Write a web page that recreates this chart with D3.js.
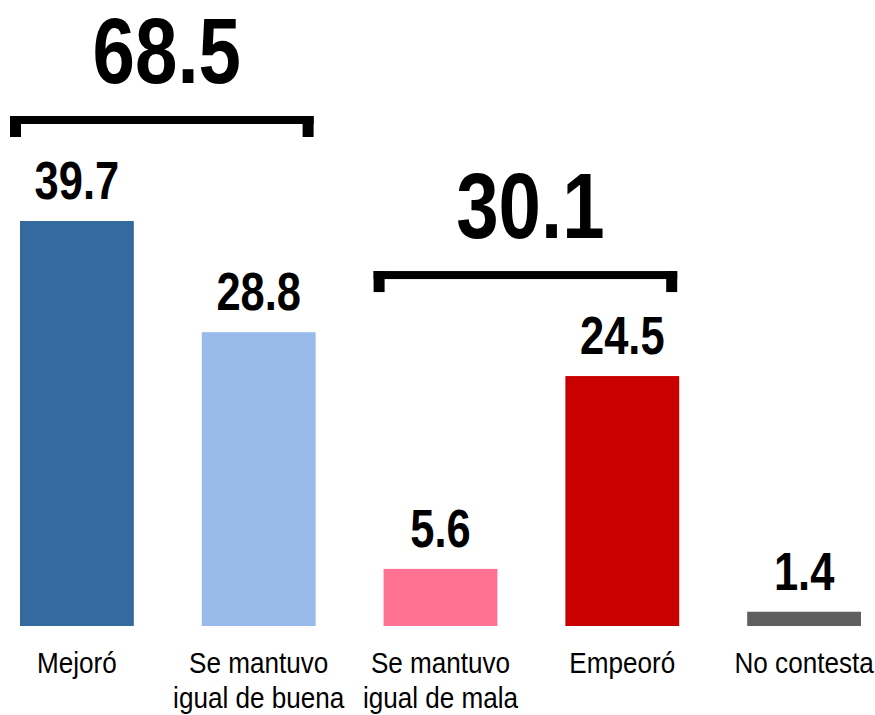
<!DOCTYPE html>
<html>
<head>
<meta charset="utf-8">
<script src="https://cdn.jsdelivr.net/npm/d3@7"></script>
<style>
  body { margin: 0; background: #fff; }
  text { font-family: "Liberation Sans", Arial, sans-serif; }
</style>
</head>
<body>
<div id="chart"></div>
<script>
// categories and values
var categories = ["Mejoró", "Se mantuvo igual de buena", "Se mantuvo igual de mala", "Empeoró", "No contesta"];
var labelLines = [["Mejoró"], ["Se mantuvo", "igual de buena"], ["Se mantuvo", "igual de mala"], ["Empeoró"], ["No contesta"]];
var values = [39.7, 28.8, 5.6, 24.5, 1.4];
var colors = ["#356a9f", "#98bbec", "#ff7190", "#c90000", "#5f5f5f"];

// bracket groups (sums)
var groupTotals = ["68.5", "30.1"];
var groupMembers = [[0, 1], [2, 3]];

var width = 875, height = 715;

var svg = d3.select("#chart").append("svg")
    .attr("width", width)
    .attr("height", height);

var x = d3.scaleBand()
    .domain(categories)
    .range([20, 861])
    .paddingInner(0.374)
    .paddingOuter(0);

var y = d3.scaleLinear()
    .domain([0, 39.7])
    .range([626, 221]);

// squeeze text horizontally to mimic a narrow face
function place(cx, cy, k) {
    return "translate(" + cx + "," + cy + ") scale(" + k + ",1)";
}

// bars
svg.selectAll(".bar")
    .data(values)
    .enter()
    .append("rect")
    .attr("class", "bar")
    .attr("x", function (d, i) { return x(categories[i]); })
    .attr("y", function (d) { return y(d); })
    .attr("width", x.bandwidth())
    .attr("height", function (d) { return y(0) - y(d); })
    .style("fill", function (d, i) { return colors[i]; });

// value labels
svg.selectAll(".val")
    .data(values)
    .enter()
    .append("text")
    .attr("class", "val")
    .attr("transform", function (d, i) { return place(x(categories[i]) + x.bandwidth() / 2, y(d) - 22, 0.82); })
    .attr("text-anchor", "middle")
    .style("font-size", "53px")
    .style("font-weight", "bold")
    .style("fill", "#000")
    .text(function (d) { return d.toFixed(1); });

// category labels
labelLines.forEach(function (lines, i) {
    var cx = x(categories[i]) + x.bandwidth() / 2;
    lines.forEach(function (l, j) {
        svg.append("text")
            .attr("class", "cat")
            .attr("transform", place(cx, 673 + j * 35, 0.9))
            .attr("text-anchor", "middle")
            .style("font-size", "29px")
            .style("fill", "#000")
            .text(l);
    });
});

// brackets with group totals
groupMembers.forEach(function (m, g) {
    var x0 = x(categories[m[0]]) - 10;
    var x1 = x(categories[m[m.length - 1]]) + x.bandwidth() - 2;
    var top = y(d3.max(m, function (i) { return values[i]; })) - 105;
    var bg = svg.append("g").attr("class", "bracket");
    bg.append("rect").attr("x", x0).attr("y", top).attr("width", x1 - x0).attr("height", 8).style("fill", "#000");
    bg.append("rect").attr("x", x0).attr("y", top).attr("width", 11).attr("height", 21).style("fill", "#000");
    bg.append("rect").attr("x", x1 - 11).attr("y", top).attr("width", 11).attr("height", 21).style("fill", "#000");
    bg.append("text")
        .attr("transform", place((x0 + x1) / 2 + 5, top - 33, 0.82))
        .attr("text-anchor", "middle")
        .style("font-size", "93px")
        .style("font-weight", "bold")
        .style("fill", "#000")
        .text(groupTotals[g]);
});
</script>
</body>
</html>
